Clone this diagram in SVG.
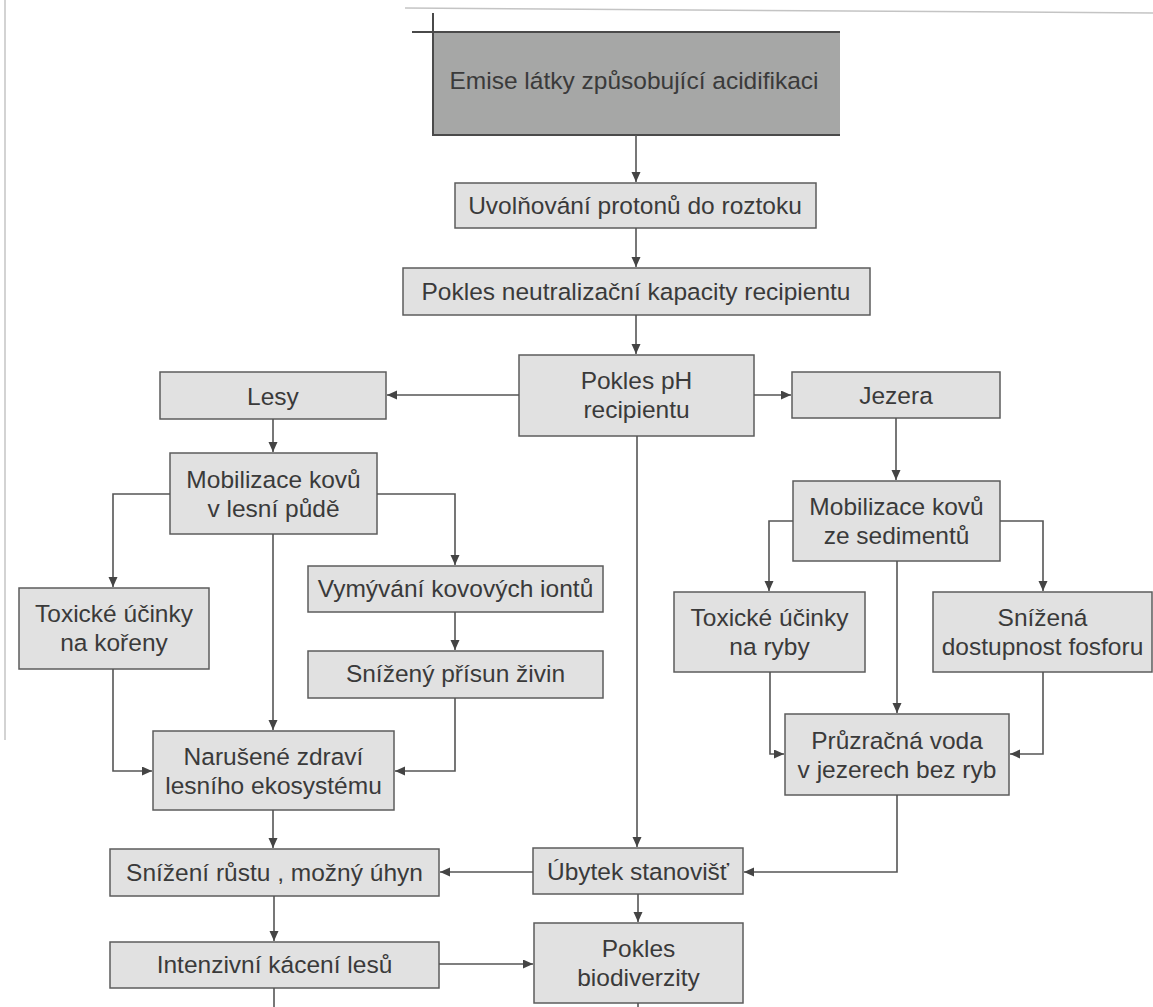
<svg xmlns="http://www.w3.org/2000/svg" width="1153" height="1007" viewBox="0 0 1153 1007">
<style>
.box{fill:#e1e1e1;stroke:#5c5c5c;stroke-width:1.5}
.t{font-family:"Liberation Sans",Arial,sans-serif;font-size:24.5px;fill:#3a3a3a;text-anchor:middle}
.c{fill:none;stroke:#555;stroke-width:1.6}
.a{marker-end:url(#arr)}
.scan{stroke:#c4c4c4;stroke-width:1.5;fill:none}
</style>
<defs>
<marker id="arr" markerUnits="userSpaceOnUse" markerWidth="11" markerHeight="10" refX="10" refY="4.5" orient="auto">
<path d="M0,0 L10,4.5 L0,9 z" fill="#444"/>
</marker>
</defs>
<rect width="1153" height="1007" fill="#ffffff"/>
<g id="scan-edges">
<path class="scan" d="M405,8 L1153,13"/>
<path class="scan" d="M5,0 L5,740"/>
</g>

<g id="n-emise">
<rect x="433" y="32" width="407" height="103" fill="#a6a7a6"/>
<path d="M412,32 H840 M433,13 V135 H840" fill="none" stroke="#4a4a4a" stroke-width="2"/>
<text class="t" x="634" y="89">Emise látky způsobující acidifikaci</text>
</g>
<g id="n-uvolnovani">
<rect class="box" x="455" y="183" width="361" height="45"/>
<text class="t" x="635" y="214">Uvolňování protonů do roztoku</text>
</g>
<g id="n-neutralizace">
<rect class="box" x="403" y="268" width="467" height="47"/>
<text class="t" x="636" y="300">Pokles neutralizační kapacity recipientu</text>
</g>
<g id="n-ph">
<rect class="box" x="519" y="355" width="235" height="81"/>
<text class="t" x="636.5" y="389">Pokles pH</text>
<text class="t" x="636.5" y="418">recipientu</text>
</g>
<g id="n-lesy">
<rect class="box" x="160" y="372" width="226" height="47"/>
<text class="t" x="273" y="405">Lesy</text>
</g>
<g id="n-jezera">
<rect class="box" x="792" y="372" width="208" height="46"/>
<text class="t" x="896" y="404">Jezera</text>
</g>
<g id="n-mob-les">
<rect class="box" x="170" y="453" width="207" height="81"/>
<text class="t" x="273.5" y="488">Mobilizace kovů</text>
<text class="t" x="273.5" y="517">v lesní půdě</text>
</g>
<g id="n-mob-sed">
<rect class="box" x="793" y="481" width="207" height="80"/>
<text class="t" x="896.5" y="515">Mobilizace kovů</text>
<text class="t" x="896.5" y="544">ze sedimentů</text>
</g>
<g id="n-tox-koreny">
<rect class="box" x="19" y="588" width="190" height="81"/>
<text class="t" x="114" y="622">Toxické účinky</text>
<text class="t" x="114" y="651">na kořeny</text>
</g>
<g id="n-vymyvani">
<rect class="box" x="308" y="566" width="295" height="46"/>
<text class="t" x="455.5" y="597">Vymývání kovových iontů</text>
</g>
<g id="n-prisun">
<rect class="box" x="308" y="651" width="295" height="47"/>
<text class="t" x="455.5" y="682">Snížený přísun živin</text>
</g>
<g id="n-naruseni">
<rect class="box" x="153" y="731" width="241" height="79"/>
<text class="t" x="273.5" y="765">Narušené zdraví</text>
<text class="t" x="273.5" y="794">lesního ekosystému</text>
</g>
<g id="n-tox-ryby">
<rect class="box" x="674" y="592" width="191" height="80"/>
<text class="t" x="769.5" y="626">Toxické účinky</text>
<text class="t" x="769.5" y="655">na ryby</text>
</g>
<g id="n-fosfor">
<rect class="box" x="933" y="592" width="219" height="80"/>
<text class="t" x="1042.5" y="626">Snížená</text>
<text class="t" x="1042.5" y="655">dostupnost fosforu</text>
</g>
<g id="n-pruzracna">
<rect class="box" x="785" y="714" width="224" height="81"/>
<text class="t" x="897" y="749">Průzračná voda</text>
<text class="t" x="897" y="778">v jezerech bez ryb</text>
</g>
<g id="n-snizeni">
<rect class="box" x="110" y="849" width="329" height="47"/>
<text class="t" x="274.5" y="881">Snížení růstu , možný úhyn</text>
</g>
<g id="n-ubytek">
<rect class="box" x="533" y="848" width="210" height="46"/>
<text class="t" x="638" y="880">Úbytek stanovišť</text>
</g>
<g id="n-kaceni">
<rect class="box" x="110" y="942" width="329" height="46"/>
<text class="t" x="274.5" y="973">Intenzivní kácení lesů</text>
</g>
<g id="n-biodiverzita">
<rect class="box" x="534" y="923" width="209" height="80"/>
<text class="t" x="638.5" y="957">Pokles</text>
<text class="t" x="638.5" y="986">biodiverzity</text>
</g>

<g id="connectors">
<path class="c a" d="M636,135 V182"/>
<path class="c a" d="M636,228 V267"/>
<path class="c a" d="M636,315 V354"/>
<path class="c a" d="M519,395 H387"/>
<path class="c a" d="M754,395 H791"/>
<path class="c a" d="M273,419 V452"/>
<path class="c a" d="M896,418 V480"/>
<path class="c a" d="M170,494 H113 V587"/>
<path class="c a" d="M377,494 H455 V565"/>
<path class="c a" d="M455,612 V650"/>
<path class="c a" d="M273,534 V730"/>
<path class="c a" d="M113,669 V771 H152"/>
<path class="c a" d="M455,698 V771 H395"/>
<path class="c a" d="M793,521 H769 V591"/>
<path class="c a" d="M1000,521 H1043 V591"/>
<path class="c a" d="M897,561 V713"/>
<path class="c a" d="M770,672 V754 H784"/>
<path class="c a" d="M1043,672 V754 H1010"/>
<path class="c a" d="M897,795 V872 H744"/>
<path class="c a" d="M637,436 V847"/>
<path class="c a" d="M533,872 H440"/>
<path class="c a" d="M273,810 V848"/>
<path class="c a" d="M274,896 V941"/>
<path class="c a" d="M439,964 H533"/>
<path class="c a" d="M638,894 V922"/>
<path class="c" d="M274,988 V1007"/>
<path class="c" d="M638,1003 V1007"/>
</g>
</svg>
